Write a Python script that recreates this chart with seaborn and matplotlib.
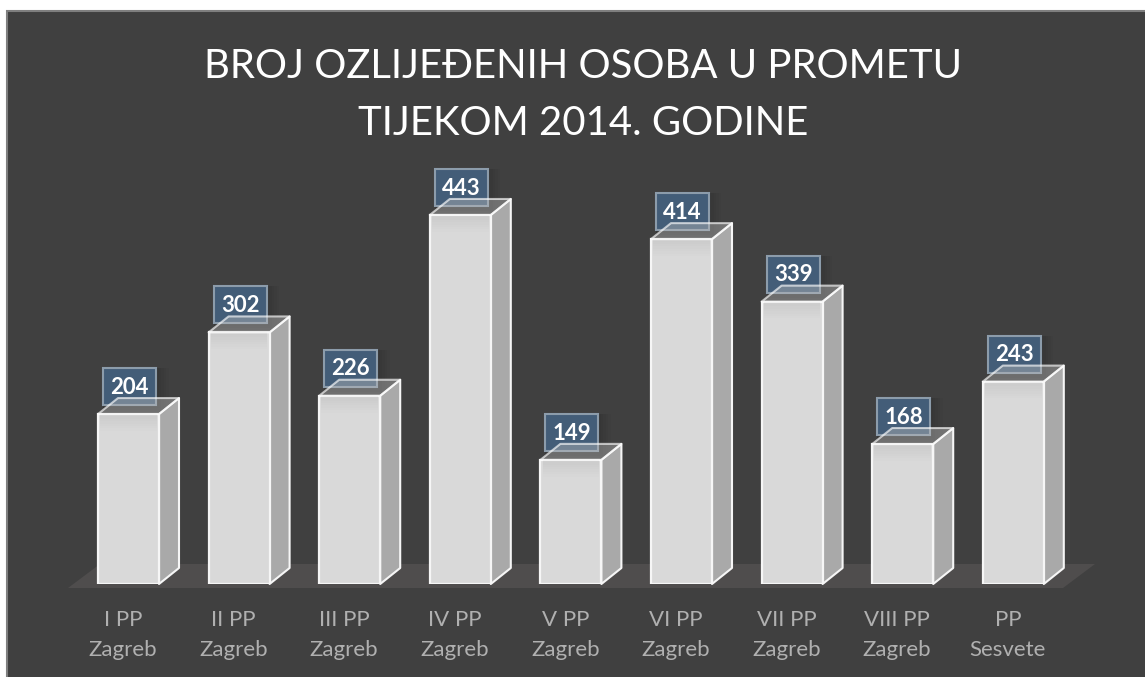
import matplotlib.pyplot as plt
import seaborn as sns
from matplotlib.patches import Polygon, Rectangle
from matplotlib.transforms import ScaledTranslation

categories = [
    "I PP\nZagreb",
    "II PP\nZagreb",
    "III PP\nZagreb",
    "IV PP\nZagreb",
    "V PP\nZagreb",
    "VI PP\nZagreb",
    "VII PP\nZagreb",
    "VIII PP\nZagreb",
    "PP\nSesvete",
]
values = [204, 302, 226, 443, 149, 414, 339, 168, 243]
title = "BROJ OZLIJEĐENIH OSOBA U PROMETU\nTIJEKOM 2014. GODINE"

W, H = 1145, 677
PX_PER_CAT = 110.6
PX_PER_VAL = 0.833
DEPTH_X = 20 / PX_PER_CAT
DEPTH_Y = 16 / PX_PER_VAL

sns.set_theme(style="dark")
plt.rcParams["font.family"] = ["Lato", "DejaVu Sans"]

fig = plt.figure(figsize=(W / 100, H / 100), dpi=100, facecolor="white")

# Dark panel behind everything
fig.patches.append(
    Rectangle(
        (7 / W, -0.01), 1.02 - 7 / W, 1.01 - 11 / H,
        transform=fig.transFigure, facecolor="#404040",
        edgecolor="#7f7f7f", linewidth=1.5,
    )
)

# Floor of the 3D box
floor_px = [(68, 588), (100, 564), (1095, 564), (1063, 588)]
fig.patches.append(
    Polygon(
        [(x / W, 1 - y / H) for x, y in floor_px],
        transform=fig.transFigure, facecolor="#4f4d4d", edgecolor="none",
    )
)

ax = fig.add_axes([73.2 / W, (H - 584) / H, 995.4 / W, 433 / H])
ax.set_zorder(2)
ax.patch.set_alpha(0)

sns.barplot(
    x=categories, y=values, ax=ax, color="#d9d9d9", saturation=1,
    width=61 / PX_PER_CAT, edgecolor="#f6f6f6", linewidth=1.6, zorder=3,
)
ax.set_xlim(-0.5, 8.5)
ax.set_ylim(0, 433 / PX_PER_VAL)
ax.set_yticks([])
ax.set_xlabel("")
ax.set_ylabel("")
ax.grid(False)
sns.despine(ax=ax, left=True, bottom=True)

# Side and top faces, shadow and label box for each bar
for bar, value in zip(list(ax.patches), values):
    x0 = bar.get_x()
    x1 = x0 + bar.get_width()
    centre = (x0 + x1) / 2

    ax.add_patch(Polygon(
        [(x1, 0), (x1 + DEPTH_X, DEPTH_Y), (x1 + DEPTH_X, value + DEPTH_Y), (x1, value)],
        facecolor="#a9a9a9", edgecolor="#f6f6f6", linewidth=1.5, zorder=2,
        joinstyle="round", clip_on=False,
    ))

    # Soft shadow below the top edge
    for i in range(7):
        ax.add_patch(Rectangle(
            (x0 + 0.02, value - (i + 1) * 2.4 / PX_PER_VAL), bar.get_width() - 0.04,
            2.4 / PX_PER_VAL, facecolor="black", edgecolor="none",
            alpha=0.06 * (1 - i / 7), zorder=3.5,
        ))

    box_w = 53 / PX_PER_CAT
    box_h = 37 / PX_PER_VAL
    box_x = centre + 1 / PX_PER_CAT - box_w / 2
    box_y = value + 9 / PX_PER_VAL

    # Dark glow behind the box
    for i in range(5):
        grow = (i + 1) * 2.5
        ax.add_patch(Rectangle(
            (box_x, box_y - grow / PX_PER_VAL), box_w + grow / PX_PER_CAT,
            box_h + grow / PX_PER_VAL, facecolor="black", edgecolor="none",
            alpha=0.025, zorder=1.5, clip_on=False,
        ))

    ax.add_patch(Rectangle(
        (box_x, box_y), box_w, box_h, facecolor="#435d78", edgecolor="#8c9cab",
        linewidth=1.5, zorder=4, clip_on=False,
    ))
    ax.add_patch(Polygon(
        [(x0, value), (x0 + DEPTH_X, value + DEPTH_Y),
         (x1 + DEPTH_X, value + DEPTH_Y), (x1, value)],
        facecolor=(0.75, 0.75, 0.75, 0.4), edgecolor=(1, 1, 1, 0.65), linewidth=1.5,
        zorder=5, joinstyle="round", clip_on=False,
    ))
    ax.text(
        centre + 1 / PX_PER_CAT, box_y + box_h * 0.48, str(value), color="white",
        fontsize=16, fontweight="bold", ha="center", va="center", zorder=6,
    )

# Tick labels sit a little left of the bars
ax.tick_params(axis="x", length=0, pad=18.5, colors="#b0b0b0")
shift = ScaledTranslation(-5.5 / 100, 0, fig.dpi_scale_trans)
for label in ax.get_xticklabels():
    label.set_fontsize(16)
    label.set_linespacing(1.64)
    label.set_transform(label.get_transform() + shift)

fig.text(
    583 / W, 1 - 95 / H, title, color="white", fontsize=28.9,
    ha="center", va="center", linespacing=1.69,
)

fig.savefig("out.png", dpi=100, facecolor=fig.get_facecolor())
